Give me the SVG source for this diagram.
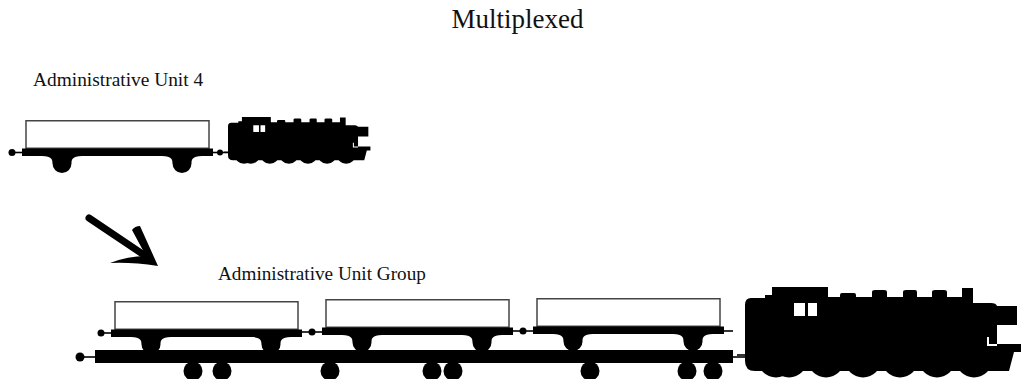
<svg xmlns="http://www.w3.org/2000/svg" xmlns:xlink="http://www.w3.org/1999/xlink" width="1023" height="379" viewBox="0 0 1023 379">
  <style>
    .label { font-family: "Liberation Serif", "Times New Roman", serif; fill: #111; }
    .box { fill: #fff; stroke: #444; stroke-width: 1.5; }
    .ink { fill: #000; }
    .hitch { stroke: #000; stroke-width: 1.6; fill: none; }
    .knob { fill: #000; }
    .win { fill: #fff; }
  </style>
  <defs>
    <!-- flat wagon: open box on a chassis with two rounded bogies -->
    <g id="wagon">
      <rect class="box" x="4" y="0.75" width="183" height="27.5"/>
      <rect class="ink" x="0" y="28.5" width="191" height="7.5"/>
      <path class="ink" d="M20,36 C30,36 30.5,40 30.5,43.5 A9.5,9.5 0 0 0 49.5,43.5 C49.5,40 50,36 60,36 Z"/>
      <path class="ink" d="M140,36 C150,36 150.5,40 150.5,43.5 A9.5,9.5 0 0 0 169.5,43.5 C169.5,40 170,36 180,36 Z"/>
    </g>
    <!-- steam locomotive silhouette, origin at rear top of the body -->
    <g id="loco">
      <path class="ink" d="M0,18 Q0,11 6,11 L20,11 L20,8 L27,8 L27,0 L83,0 L83,10
        L95,10 L95,8 Q95,6 97,6 L109,6 Q111,6 111,8 L111,10
        L127,10 L127,5 Q127,3 130,3 L139,3 Q142,3 142,5 L142,10
        L158,10 L158,5 Q158,3 161,3 L170,3 Q172,3 172,5 L172,10
        L187,10 L187,5 Q187,3 190,3 L199,3 Q202,3 202,5 L202,10
        L217,10 L217,1 L228,1 L228,16 L246,16 Q251,16 252,19
        L272,19 L272,38 L252,38 L252,57 L276,57 L276,65 L269,65 L264,84
        L10,84 Q0,84 0,74 Z"/>
      <circle class="ink" cx="31" cy="72" r="18.5"/>
      <circle class="ink" cx="44" cy="72" r="18.5"/>
      <circle class="ink" cx="81" cy="72" r="18.5"/>
      <circle class="ink" cx="118" cy="72" r="18.5"/>
      <circle class="ink" cx="155" cy="72" r="18.5"/>
      <circle class="ink" cx="192" cy="72" r="18.5"/>
      <circle class="ink" cx="229" cy="72" r="18.5"/>
      <rect class="win" x="49" y="16" width="11" height="13"/>
      <rect class="win" x="63" y="16" width="9" height="13"/>
      <path d="M243,50 L243,58 L252,58" fill="none" stroke="#fff" stroke-width="2"/>
      <line class="hitch" x1="-8" y1="68" x2="1" y2="68"/>
    </g>
  </defs>

  <!-- headings -->
  <g id="title">
    <text class="label" x="517.5" y="28" font-size="27" text-anchor="middle">Multiplexed</text>
  </g>
  <g id="label-unit4">
    <text class="label" x="33" y="86" font-size="19.4">Administrative Unit 4</text>
  </g>
  <g id="label-group">
    <text class="label" x="218" y="280" font-size="19.2">Administrative Unit Group</text>
  </g>

  <!-- single unit: one wagon behind a small engine -->
  <g id="unit4-train">
    <g id="unit4-wagon">
      <use xlink:href="#wagon" href="#wagon" transform="translate(22,120)"/>
      <line class="hitch" x1="12" y1="152.5" x2="22" y2="152.5"/>
      <circle class="knob" cx="12" cy="152.5" r="3.5"/>
    </g>
    <g id="unit4-engine">
      <line class="hitch" x1="213" y1="152.5" x2="228" y2="152.5"/>
      <circle class="knob" cx="220" cy="152.5" r="3"/>
      <use xlink:href="#loco" href="#loco" transform="translate(228,117) scale(0.516)"/>
    </g>
  </g>

  <!-- grouped unit: three wagons riding on one long carrier -->
  <g id="group-train">
    <g id="carrier">
      <rect class="ink" x="95" y="350" width="638" height="13"/>
      <line class="hitch" x1="80" y1="357" x2="96" y2="357"/>
      <circle class="knob" cx="80" cy="357" r="4.5"/>
      <line class="hitch" x1="732" y1="357" x2="747" y2="357"/>
      <circle class="ink" cx="193" cy="371" r="9.5"/>
      <circle class="ink" cx="222" cy="371" r="9.5"/>
      <circle class="ink" cx="330" cy="371" r="9.5"/>
      <circle class="ink" cx="432" cy="371" r="9.5"/>
      <circle class="ink" cx="453" cy="371" r="9.5"/>
      <circle class="ink" cx="590" cy="371" r="9.5"/>
      <circle class="ink" cx="687" cy="371" r="9.5"/>
      <circle class="ink" cx="713" cy="371" r="9.5"/>
    </g>
    <g id="group-wagon-1">
      <line class="hitch" x1="101" y1="333" x2="112" y2="333"/>
      <circle class="knob" cx="101" cy="333" r="3.5"/>
      <use xlink:href="#wagon" href="#wagon" transform="translate(111,301)"/>
    </g>
    <g id="group-wagon-2">
      <line class="hitch" x1="301" y1="332" x2="323" y2="332"/>
      <circle class="knob" cx="312" cy="332" r="3.5"/>
      <use xlink:href="#wagon" href="#wagon" transform="translate(322,299)"/>
    </g>
    <g id="group-wagon-3">
      <line class="hitch" x1="512" y1="331" x2="534" y2="331"/>
      <circle class="knob" cx="523" cy="331" r="3.5"/>
      <use xlink:href="#wagon" href="#wagon" transform="translate(533,298)"/>
      <line class="hitch" x1="723" y1="331" x2="733" y2="331"/>
    </g>
    <g id="group-engine">
      <use xlink:href="#loco" href="#loco" transform="translate(745,287)"/>
    </g>
  </g>

  <!-- brush-stroke arrow from the single unit down to the group -->
  <g id="connectors">
    <g id="arrow">
      <line x1="89" y1="218" x2="150" y2="259" stroke="#000" stroke-width="7" stroke-linecap="round"/>
      <path class="ink" d="M158,266 L140,226 Q135,226 132,230 L146,256 Q128,256 110,263 Q132,262 158,266 Z"/>
    </g>
  </g>
</svg>
